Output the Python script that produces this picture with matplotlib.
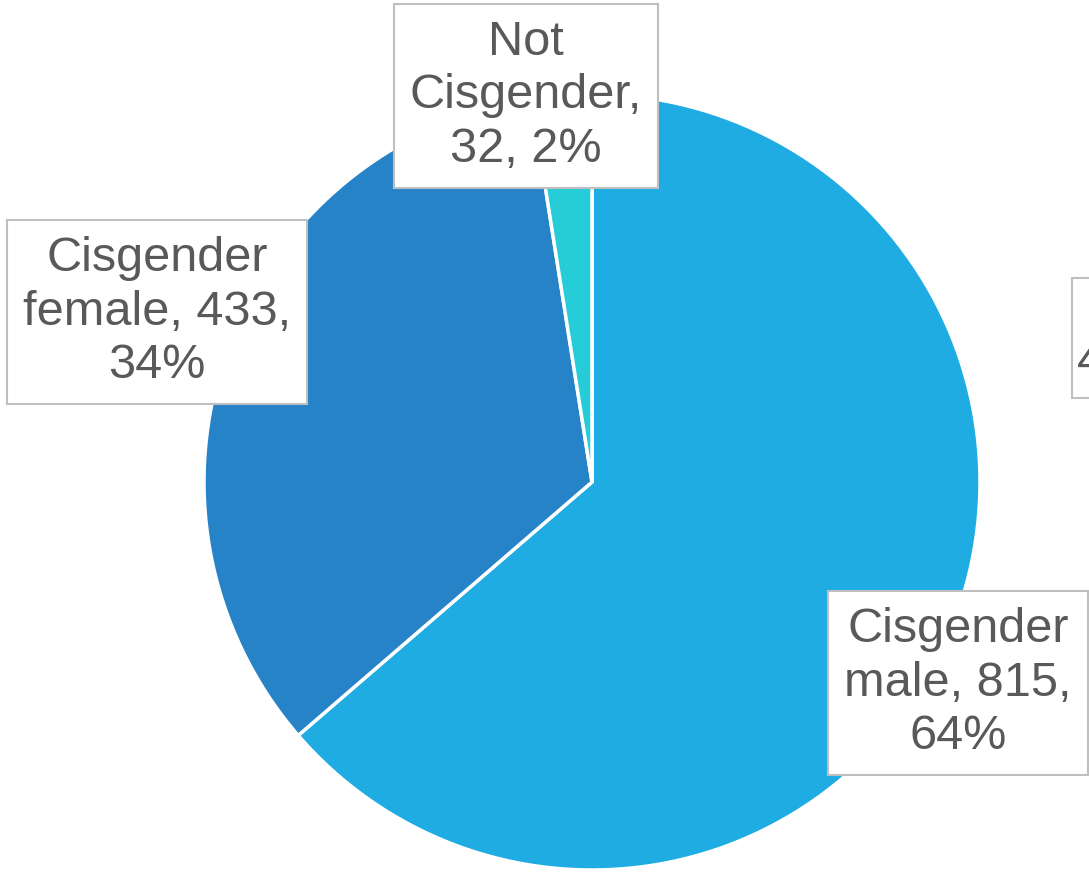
import matplotlib.pyplot as plt
import matplotlib.patches as patches

labels = ["Cisgender\nmale, 815,\n64%", "Cisgender\nfemale, 433,\n34%", "Not\nCisgender,\n32, 2%"]
counts = [815, 433, 32]
colors = ["#1FACE3", "#2783C7", "#26CCD7"]

W, H = 1089, 872
fig = plt.figure(figsize=(W / 100, H / 100), dpi=100)
ax = fig.add_axes([0, 0, 1, 1])

plt.rcParams["font.family"] = ["Liberation Sans", "DejaVu Sans"]

# pie in pixel units (y axis points down, so counterclock=True draws clockwise on screen)
ax.pie(counts, colors=colors, center=(592, 482), radius=388, startangle=-90,
       counterclock=True, frame=True,
       wedgeprops=dict(edgecolor="white", linewidth=2.5))
ax.set_xlim(0, W)
ax.set_ylim(H, 0)
ax.axis("off")

box = dict(boxstyle="square,pad=0.33", facecolor="white", edgecolor="#BFBFBF", linewidth=1.5)
label_pos = [(958, 683), (157, 312), (526, 96)]
for txt, (x, y) in zip(labels, label_pos):
    ax.text(x, y, txt, ha="center", va="center", fontsize=35, color="#595959",
            linespacing=1.24, bbox=box, multialignment="center")

# partially visible label at the right edge
ax.add_patch(patches.Rectangle((1072, 278), 60, 120, facecolor="white",
                               edgecolor="#BFBFBF", linewidth=1.5, clip_on=False))
ax.text(1077, 362, "4", ha="left", va="center", fontsize=35, color="#595959")

fig.savefig("out.png", dpi=100)
